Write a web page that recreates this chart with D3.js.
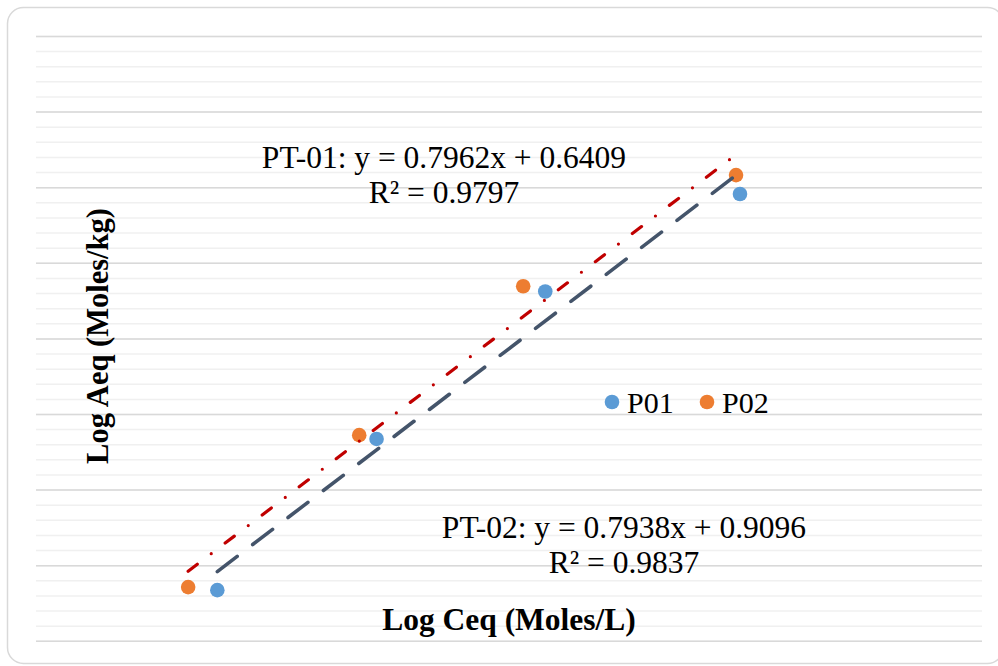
<!DOCTYPE html>
<html>
<head>
<meta charset="utf-8">
<script src="https://cdnjs.cloudflare.com/ajax/libs/d3/7.8.5/d3.min.js"></script>
<style>
  body { margin: 0; background: #fff; }
  svg text { font-family: "Liberation Serif", "Times New Roman", serif; fill: #000; }
</style>
</head>
<body>
<svg id="chart" width="998" height="666"></svg>
<script>
// data (log units)
var p01X = [-9.70, -7.68, -5.54, -3.07];
var p01Y = [-7.33, -5.33, -3.38, -2.09];
var p02X = [-10.07, -7.90, -5.82, -3.12];
var p02Y = [-7.29, -5.28, -3.31, -1.84];

var seriesNames = ["P01", "P02"];
var seriesColors = ["#5b9bd5", "#ed7d31"];
var trendColors = ["#44546a", "#c00000"];
var eqLabels = [["PT-01: y = 0.7962x + 0.6409", "R\u00b2 = 0.9797"],
                ["PT-02: y = 0.7938x + 0.9096", "R\u00b2 = 0.9837"]];
var xDomain = [-12, 0];
var yDomain = [-8, 0];

var margin = {top: 36, right: 16, bottom: 25.2, left: 36},
    W = 998, H = 666,
    width = W - margin.left - margin.right,
    height = H - margin.top - margin.bottom;

var svg = d3.select("#chart");

// chart area border
svg.append("rect")
    .attr("x", 7.5).attr("y", 7.5)
    .attr("width", 996).attr("height", 656)
    .attr("rx", 16).attr("ry", 16)
    .attr("fill", "#fff")
    .attr("stroke", "#d9d9d9")
    .attr("stroke-width", 1.5);

var x = d3.scaleLinear().domain(xDomain).range([0, width]);
var y = d3.scaleLinear().domain(yDomain).range([height, 0]);

var g = svg.append("g")
    .attr("transform", "translate(" + margin.left + "," + margin.top + ")");

// minor then major gridlines, axis itself hidden
var minorTicks = d3.range(yDomain[0], yDomain[1] + 0.001, 0.2);
g.append("g")
    .call(d3.axisLeft(y).tickValues(minorTicks).tickSize(-width).tickFormat(""))
    .call(function(a){
        a.select(".domain").remove();
        a.selectAll("line").attr("stroke", "#f0f0f0").attr("stroke-width", 1.5);
    });
g.append("g")
    .call(d3.axisLeft(y).ticks(8).tickSize(-width).tickFormat(""))
    .call(function(a){
        a.select(".domain").remove();
        a.selectAll("line").attr("stroke", "#d9d9d9").attr("stroke-width", 1.5);
    });

var series = [
    {name: seriesNames[0], xs: p01X, ys: p01Y},
    {name: seriesNames[1], xs: p02X, ys: p02Y}
];

// points
series.forEach(function(s, i){
    g.selectAll("circle.s" + i)
        .data(s.xs.map(function(v, j){ return [v, s.ys[j]]; }))
        .enter()
        .append("circle")
        .attr("class", "s" + i)
        .attr("cx", function(d){ return x(d[0]); })
        .attr("cy", function(d){ return y(d[1]); })
        .attr("r", 7.3)
        .attr("fill", seriesColors[i]);
});

// linear trendlines, least squares like excel does
var fit = function(xs, ys){
    var mx = d3.mean(xs), my = d3.mean(ys);
    var sxy = d3.sum(xs, function(v, j){ return (v - mx) * (ys[j] - my); });
    var sxx = d3.sum(xs, function(v){ return (v - mx) * (v - mx); });
    var m = sxy / sxx;
    return {m: m, b: my - m * mx};
};

var dashes = ["25,19.5", "11.5,17.5,0,17.5"];
var widths = [3.6, 3.2];
var line = d3.line()
    .x(function(d){ return x(d[0]); })
    .y(function(d){ return y(d[1]); });

series.forEach(function(s, i){
    var f = fit(s.xs, s.ys);
    var ext = d3.extent(s.xs);
    g.append("path")
        .datum(ext.map(function(v){ return [v, f.m * v + f.b]; }))
        .attr("d", line)
        .attr("fill", "none")
        .attr("stroke", trendColors[i])
        .attr("stroke-width", widths[i])
        .attr("stroke-linecap", "round")
        .attr("stroke-dasharray", dashes[i]);
});

// equation labels
var labelPos = [[444, 168], [624, 538]];
eqLabels.forEach(function(lines, i){
    var t = svg.append("text")
        .attr("text-anchor", "middle")
        .style("font-size", "31.5px");
    lines.forEach(function(txt, k){
        t.append("tspan")
            .attr("x", labelPos[i][0])
            .attr("y", labelPos[i][1] + k * 35)
            .text(txt);
    });
});

// legend
var legend = svg.append("g").attr("transform", "translate(612,402)");
var legX = [0, 95];
seriesNames.forEach(function(n, i){
    legend.append("circle")
        .attr("cx", legX[i]).attr("cy", 0)
        .attr("r", 7.3)
        .attr("fill", seriesColors[i]);
    legend.append("text")
        .attr("x", legX[i] + 15).attr("y", 10.5)
        .style("font-size", "30px")
        .text(n);
});

// axis titles
svg.append("text")
    .attr("x", 509).attr("y", 630)
    .attr("text-anchor", "middle")
    .style("font-size", "31.5px")
    .style("font-weight", "bold")
    .text("Log Ceq (Moles/L)");

svg.append("text")
    .attr("transform", "translate(108,336) rotate(-90)")
    .attr("text-anchor", "middle")
    .style("font-size", "30.5px")
    .style("font-weight", "bold")
    .text("Log Aeq (Moles/kg)");
</script>
</body>
</html>
